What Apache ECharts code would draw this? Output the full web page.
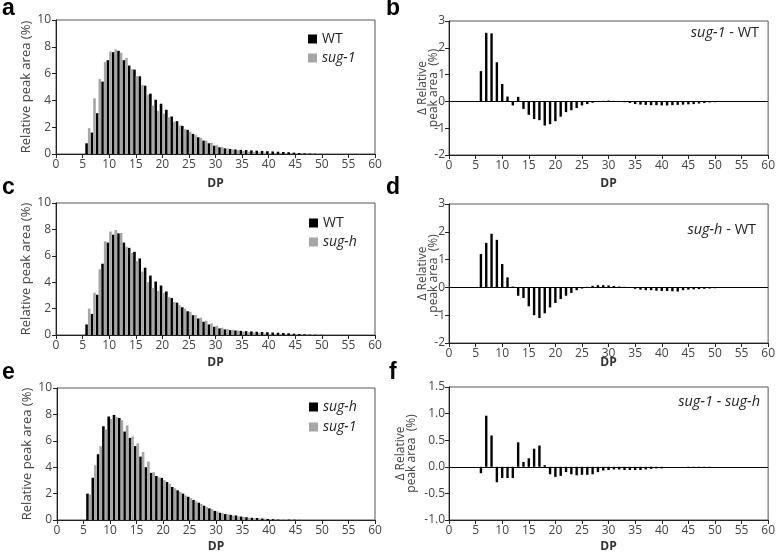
<!DOCTYPE html>
<html><head><meta charset="utf-8">
<script src="https://cdn.jsdelivr.net/npm/echarts@6/dist/echarts.min.js"></script>
<style>html,body{margin:0;padding:0;background:#fff}#c{width:778px;height:557px}</style>
</head><body><div id="c"></div>
<script>
// Degree of polymerisation (DP 6..50)
const dp = [6,7,8,9,10,11,12,13,14,15,16,17,18,19,20,21,22,23,24,25,26,27,28,29,30,31,32,33,34,35,36,37,38,39,40,41,42,43,44,45,46,47,48,49,50];
const xTicks = [0,5,10,15,20,25,30,35,40,45,50,55,60];
// Relative peak area (%)
const wt   = [0.8,1.6,3.05,5.4,7.0,7.6,7.7,7.0,6.6,6.3,5.8,5.1,4.5,4.05,3.75,3.3,2.8,2.45,2.1,1.8,1.5,1.25,1.0,0.8,0.62,0.5,0.42,0.37,0.34,0.31,0.29,0.27,0.25,0.23,0.21,0.19,0.17,0.15,0.13,0.1,0.07,0.05,0.03,0.02,0.01];
const sug1 = [1.93,4.16,5.59,6.86,7.65,7.8,7.56,7.17,6.33,5.81,5.15,4.42,3.62,3.22,3.02,2.74,2.4,2.13,1.86,1.66,1.41,1.21,0.99,0.83,0.66,0.52,0.42,0.34,0.28,0.22,0.17,0.14,0.12,0.1,0.07,0.05,0.04,0.03,0.02,0.01,0.01,0,0,0,0];
const sugh = [2.0,3.2,4.98,7.1,7.84,7.96,7.73,6.7,6.22,5.6,4.8,4.0,3.57,3.33,3.19,2.88,2.5,2.25,2.0,1.76,1.52,1.31,1.08,0.88,0.69,0.55,0.45,0.39,0.34,0.26,0.21,0.17,0.15,0.11,0.08,0.06,0.03,0.01,0.03,0.02,0.01,0,0,0,0];
// Differences (%)
const dSug1WT  = [1.13,2.56,2.54,1.46,0.65,0.18,-0.15,0.17,-0.28,-0.5,-0.66,-0.7,-0.9,-0.85,-0.74,-0.57,-0.4,-0.33,-0.25,-0.15,-0.1,-0.05,-0.01,0.02,0.03,0.02,0,-0.03,-0.06,-0.1,-0.12,-0.13,-0.14,-0.14,-0.15,-0.15,-0.14,-0.13,-0.12,-0.11,-0.1,-0.08,-0.06,-0.04,-0.03];
const dSughWT  = [1.2,1.6,1.93,1.71,0.84,0.36,0.03,-0.3,-0.38,-0.68,-1.0,-1.1,-0.93,-0.72,-0.56,-0.42,-0.3,-0.2,-0.1,-0.04,0.02,0.06,0.08,0.08,0.07,0.05,0.03,0.02,0,-0.05,-0.08,-0.1,-0.1,-0.12,-0.13,-0.13,-0.14,-0.15,-0.1,-0.08,-0.07,-0.06,-0.05,-0.04,-0.03];
const dSug1Sugh= [-0.12,0.96,0.59,-0.29,-0.21,-0.21,-0.21,0.46,0.09,0.16,0.34,0.4,0.03,-0.14,-0.19,-0.17,-0.1,-0.14,-0.16,-0.15,-0.15,-0.14,-0.1,-0.07,-0.06,-0.05,-0.05,-0.06,-0.06,-0.06,-0.06,-0.05,-0.04,-0.03,-0.03,0,0,0,0,-0.01,-0.01,-0.01,-0.01,-0.01,0];

const FONT = 'Open Sans';
const BLACK = '#000000', GRAY = '#a6a6a6';
const pairs = arr => dp.map((d, i) => [d, arr[i]]);

const grids = [
  {left:56,  top:20,  width:319, height:134},
  {left:449, top:21,  width:321, height:134},
  {left:56,  top:203, width:319, height:132},
  {left:449, top:204, width:321, height:139},
  {left:57,  top:388, width:318, height:132},
  {left:449, top:387, width:321, height:133}
].map(g => Object.assign(g, {show:true, borderColor:'#555', borderWidth:1, backgroundColor:'transparent'}));

const xNameGaps = [24, 23, 22, 14, 21, 21];
const xAxes = grids.map((g, i) => ({
  gridIndex:i, type:'value', min:xTicks[0], max:xTicks[xTicks.length-1], interval:5,
  name:'DP', nameLocation:'middle', nameGap:xNameGaps[i], nameMoveOverlap:false,
  nameTextStyle:{fontFamily:FONT, fontSize:12, fontWeight:'bold', color:'#333'},
  axisLine:{show:true, onZero:false, lineStyle:{color:'#222', width:1}},
  axisTick:{show:true, inside:false, length:4, lineStyle:{color:'#222'}},
  axisLabel:{fontFamily:FONT, fontSize:12, color:'#444', margin:5},
  splitLine:{show:false}
}));

function yDist(i){
  return {gridIndex:i, type:'value', min:0, max:10, interval:2,
    name:'Relative peak area (%)', nameLocation:'middle', nameGap:23, nameMoveOverlap:false,
    nameTextStyle:{fontFamily:FONT, fontSize:13, color:'#444'},
    axisLine:{show:true, onZero:false, lineStyle:{color:'#222'}},
    axisTick:{show:true, length:4, lineStyle:{color:'#222'}},
    axisLabel:{fontFamily:FONT, fontSize:12, color:'#444', margin:5},
    splitLine:{show:false}};
}
function yDiff(i, min, max, interval, gap, dec){
  return {gridIndex:i, type:'value', min:min, max:max, interval:interval,
    name:'Δ Relative\npeak area  (%)', nameLocation:'middle', nameGap:gap, nameMoveOverlap:false,
    nameTextStyle:{fontFamily:FONT, fontSize:12, color:'#444', lineHeight:11},
    axisLine:{show:true, onZero:false, lineStyle:{color:'#222'}},
    axisTick:{show:true, length:4, lineStyle:{color:'#222'}},
    axisLabel:{fontFamily:FONT, fontSize:12, color:'#444', margin:4,
      formatter: v => dec ? v.toFixed(1) : String(v)},
    splitLine:{show:false}};
}
const yAxes = [
  yDist(0), yDiff(1, -2, 3, 1, 10, false),
  yDist(2), yDiff(3, -2, 3, 1, 10, false),
  yDist(4), yDiff(5, -1, 1.5, 0.5, 32, true)
];

function pairSeries(idx, n1, d1, c1, n2, d2, c2){
  return [
    {type:'bar', name:n1, xAxisIndex:idx, yAxisIndex:idx, data:pairs(d1), barWidth:2.6, barGap:'0%', itemStyle:{color:c1}},
    {type:'bar', name:n2, xAxisIndex:idx, yAxisIndex:idx, data:pairs(d2), barWidth:2.6, barGap:'0%', itemStyle:{color:c2}}
  ];
}
function diffSeries(idx, name, d){
  return {type:'bar', name:name, xAxisIndex:idx, yAxisIndex:idx, data:pairs(d), barWidth:2.4, itemStyle:{color:BLACK},
    markLine:{silent:true, symbol:'none', label:{show:false}, lineStyle:{color:'#000', width:1, type:'solid'}, data:[{yAxis:0}]}};
}
const series = [].concat(
  pairSeries(0, 'WT', wt, BLACK, 'sug-1', sug1, GRAY),
  [diffSeries(1, 'sug-1 - WT', dSug1WT)],
  pairSeries(2, 'WT', wt, BLACK, 'sug-h', sugh, GRAY),
  [diffSeries(3, 'sug-h - WT', dSughWT)],
  pairSeries(4, 'sug-h', sugh, BLACK, 'sug-1', sug1, GRAY),
  [diffSeries(5, 'sug-1 - sug-h', dSug1Sugh)]
);

function legend(left, top, items, gap){
  return {orient:'vertical', left:left, top:top, icon:'rect', itemWidth:9, itemHeight:9, itemGap:gap,
    selectedMode:false, textStyle:{fontFamily:FONT, fontSize:14, color:'#222'},
    data: items.map(it => ({name:it[0], itemStyle:{color:it[1]}, textStyle:{fontStyle:it[2] ? 'italic':'normal'}}))};
}
const legends = [
  legend(303, 27, [['WT', BLACK, false], ['sug-1', GRAY, true]], 5),
  legend(304, 211, [['WT', BLACK, false], ['sug-h', GRAY, true]], 5),
  legend(304, 395, [['sug-h', BLACK, true], ['sug-1', GRAY, true]], 6)
];

const rich = {
  i:{fontFamily:FONT, fontSize:14.5, fontStyle:'italic', fill:'#222'},
  n:{fontFamily:FONT, fontSize:14.5, fill:'#222'}
};
function note(x, y, txt){
  return {type:'text', x:x, y:y, silent:true,
    style:{text:txt, rich:rich, align:'right', verticalAlign:'middle', fontFamily:FONT, fontSize:14.5, fill:'#222'}};
}
function letter(x, y, t){
  return {type:'text', x:x, y:y, silent:true,
    style:{text:t, fontFamily:'Liberation Sans', fontWeight:'bold', fontSize:23, fill:'#000', verticalAlign:'middle'}};
}
const graphic = [
  letter(2, 9, 'a'), letter(386, 9, 'b'),
  letter(2, 188, 'c'), letter(386, 188, 'd'),
  letter(2, 373, 'e'), letter(389, 373, 'f'),
  note(759, 33, '{i|sug-1}{n| - WT}'),
  note(756, 230, '{i|sug-h}{n| - WT}'),
  note(760, 402, '{i|sug-1 - sug-h}')
];

const chart = echarts.init(document.getElementById('c'), null, {renderer:'canvas'});
chart.setOption({
  animation:false,
  backgroundColor:'#fff',
  grid:grids, xAxis:xAxes, yAxis:yAxes, series:series, legend:legends, graphic:graphic
});
</script>
</body></html>
